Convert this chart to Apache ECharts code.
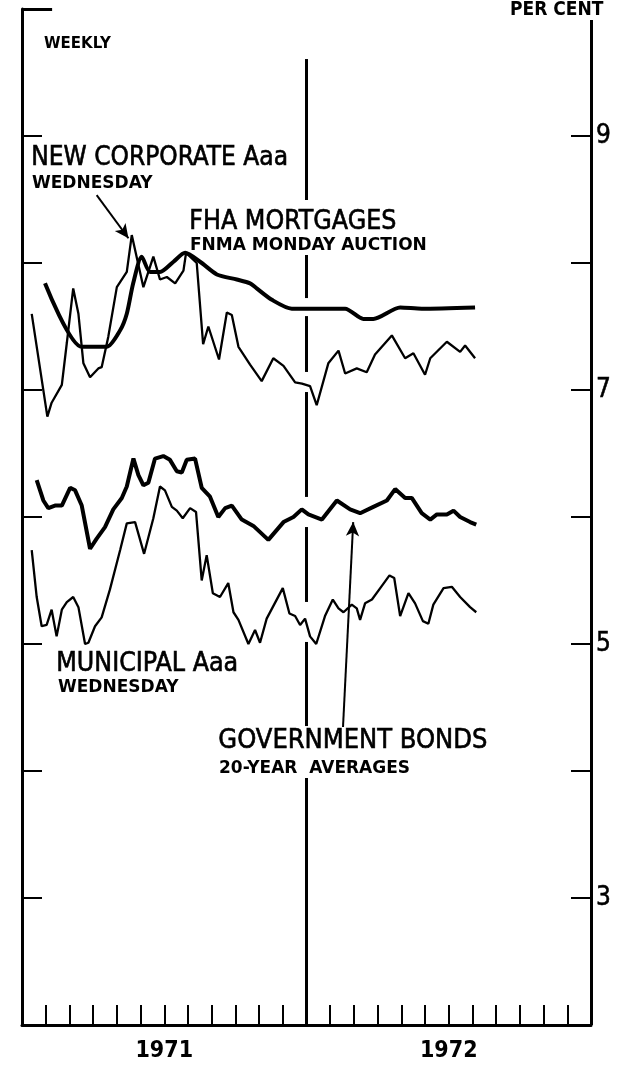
<!DOCTYPE html>
<html>
<head>
<meta charset="utf-8">
<script src="https://cdn.jsdelivr.net/npm/echarts@6/dist/echarts.min.js"></script>
<style>
html,body{margin:0;padding:0;background:#fff;}
#chart{width:626px;height:1074px;}
</style>
</head>
<body>
<div id="chart"></div>
<script>
// x values are months since Jan 1, 1971 (0 = Jan 1971, 12 = Jan 1972, 24 = Jan 1973)
var fhaX = [0.97,2.52,3.57,4.14,4.42,4.69,5.05,5.40,5.82,6.39,6.88,7.51,8.22,9.06,9.62,9.90,10.54,11.38,12.01,13.63,14.40,14.82,15.95,16.86,19.11];
var fhaY = [7.84,7.34,7.34,7.47,7.60,7.84,8.05,7.93,7.93,8.01,8.08,8.01,7.91,7.87,7.84,7.80,7.71,7.64,7.64,7.64,7.56,7.56,7.65,7.64,7.65];

var corpX = [0.41,1.07,1.25,1.68,1.89,2.16,2.38,2.59,2.87,3.22,3.36,3.64,4.00,4.42,4.63,5.12,5.54,5.82,6.11,6.46,6.81,6.92,7.37,7.64,7.86,8.31,8.64,8.85,9.13,9.62,10.11,10.60,11.03,11.52,11.81,12.15,12.43,12.92,13.35,13.63,14.12,14.54,14.89,15.60,16.16,16.51,17.00,17.22,17.92,18.48,18.69,19.11];
var corpY = [7.60,6.79,6.90,7.04,7.37,7.80,7.60,7.21,7.10,7.17,7.18,7.42,7.81,7.93,8.22,7.81,8.05,7.87,7.89,7.84,7.94,8.08,8.00,7.36,7.50,7.24,7.61,7.59,7.34,7.20,7.07,7.25,7.19,7.06,7.05,7.03,6.88,7.21,7.31,7.13,7.17,7.14,7.28,7.43,7.25,7.29,7.12,7.25,7.38,7.30,7.35,7.25];

var govX = [0.62,0.90,1.11,1.39,1.68,2.03,2.24,2.52,2.87,3.15,3.50,3.85,4.21,4.42,4.70,4.91,5.12,5.33,5.61,5.96,6.24,6.53,6.74,6.95,7.30,7.58,7.93,8.28,8.57,8.85,9.27,9.76,10.39,11.03,11.45,11.80,12.08,12.65,13.28,13.84,14.26,14.82,15.39,15.74,16.16,16.44,16.86,17.22,17.50,17.92,18.20,18.48,18.90,19.16];
var govY = [6.29,6.13,6.07,6.09,6.09,6.23,6.21,6.09,5.75,5.83,5.92,6.06,6.15,6.24,6.46,6.33,6.25,6.27,6.46,6.48,6.45,6.36,6.35,6.45,6.46,6.23,6.16,6.00,6.07,6.09,5.98,5.93,5.82,5.96,6.00,6.06,6.02,5.98,6.13,6.06,6.03,6.08,6.13,6.22,6.15,6.15,6.03,5.98,6.02,6.02,6.05,6.00,5.96,5.94];

var muniX = [0.41,0.62,0.83,1.04,1.25,1.46,1.68,1.89,2.16,2.38,2.66,2.80,3.08,3.36,3.71,4.14,4.42,4.77,5.15,5.54,5.82,6.03,6.32,6.53,6.78,7.09,7.34,7.58,7.79,8.05,8.35,8.70,8.92,9.13,9.55,9.83,10.04,10.32,11.00,11.28,11.52,11.73,11.94,12.15,12.41,12.78,13.11,13.35,13.56,13.91,14.12,14.26,14.47,14.76,15.11,15.50,15.70,15.95,16.30,16.58,16.91,17.14,17.35,17.78,18.13,18.48,18.90,19.16];
var muniY = [5.74,5.37,5.14,5.15,5.27,5.06,5.27,5.33,5.37,5.29,5.00,5.01,5.14,5.21,5.43,5.74,5.95,5.96,5.71,5.99,6.24,6.21,6.08,6.05,5.99,6.07,6.04,5.50,5.70,5.40,5.37,5.48,5.25,5.19,5.00,5.11,5.01,5.20,5.44,5.24,5.22,5.15,5.20,5.06,5.00,5.22,5.35,5.28,5.25,5.31,5.28,5.19,5.32,5.35,5.44,5.54,5.52,5.22,5.40,5.32,5.18,5.16,5.31,5.44,5.45,5.37,5.29,5.25];

var yearLabels = {6: '1971', 18: '1972'};
var rightTickLabels = [3, 5, 7, 9];
var yTickValues = [3, 4, 5, 6, 7, 8, 9];

function zip(xs, ys) { return xs.map(function (x, i) { return [x, ys[i]]; }); }

var FONT = '"DejaVu Sans Condensed", "Liberation Sans Narrow", "DejaVu Sans", sans-serif';
var FONTB = '"DejaVu Sans", sans-serif';

// year divider segments (value ranges along Jan 1972), broken where text/lines cross
var dividerSegs = [[9.606, 8.496], [8.063, 7.724], [7.582, 7.142], [6.984, 6.158], [5.921, 5.331], [5.016, 4.354], [3.945, 2.0]];

var markData = [];
dividerSegs.forEach(function (s) {
  markData.push([{coord: [12, s[0]]}, {coord: [12, s[1]]}]);
});
// right axis line (starts below "PER CENT")
markData.push([{coord: [24, 9.913]}, {coord: [24, 2]}]);
// top-left corner tick
markData.push([{coord: [0, 10]}, {coord: [1.27, 10]}]);

var tickData = [];
var TICK = 0.844; // 20px in months
yTickValues.forEach(function (v) {
  tickData.push([{coord: [0, v]}, {coord: [TICK, v]}]);
  tickData.push([{coord: [24 - TICK, v]}, {coord: [24, v]}]);
});

var arrowData = [
  [{coord: [3.15, 8.535]}, {coord: [4.49, 8.195]}],
  [{coord: [13.54, 4.346]}, {coord: [13.97, 5.96]}]
];

var chart = echarts.init(document.getElementById('chart'), null, {renderer: 'canvas'});
var lineBase = {type: 'line', showSymbol: false, symbol: 'none', animation: false, silent: true, z: 3};
var mlBase = {silent: true, animation: false, label: {show: false}, emphasis: {disabled: true}};
function label(text, left, top, font, heavy) {
  var st = {text: text, font: font, fill: '#000'};
  if (heavy) { st.stroke = '#000'; st.lineWidth = 0.6; }
  return {type: 'text', left: left, top: top, style: st};
}
var option = {
  animation: false,
  backgroundColor: '#fff',
  grid: {left: 22, right: 35, top: 9, bottom: 49, containLabel: false},
  xAxis: {
    type: 'value', min: 0, max: 24, interval: 1,
    splitLine: {show: false},
    axisLine: {show: true, onZero: false, lineStyle: {color: '#000', width: 3}},
    axisTick: {show: true, inside: true, length: 20, lineStyle: {color: '#000', width: 2},
      customValues: [1,2,3,4,5,6,7,8,9,10,11,12,13,14,15,16,17,18,19,20,21,22,23]},
    axisLabel: {show: true, customValues: [6, 18], margin: 15,
      formatter: function (v) { return yearLabels[v] || ''; },
      color: '#000', fontSize: 23, fontWeight: 'bold', fontFamily: FONT}
  },
  yAxis: [{
    type: 'value', min: 2, max: 10, interval: 1, position: 'left',
    splitLine: {show: false},
    axisLine: {show: true, onZero: false, lineStyle: {color: '#000', width: 3}},
    axisTick: {show: false},
    axisLabel: {show: false}
  }, {
    type: 'value', min: 2, max: 10, interval: 1, position: 'right',
    splitLine: {show: false},
    axisLine: {show: false},
    axisTick: {show: false},
    axisLabel: {show: true, customValues: rightTickLabels, margin: 5, color: '#000',
      fontSize: 26, fontFamily: FONT, textBorderColor: '#000', textBorderWidth: 0.5}
  }],
  series: [
    Object.assign({}, lineBase, {name: 'FHA mortgages', data: zip(fhaX, fhaY), smooth: 0.25,
      lineStyle: {color: '#000', width: 4},
      markLine: Object.assign({}, mlBase, {symbol: ['none', 'none'],
        lineStyle: {color: '#000', width: 3, type: 'solid'}, data: markData})}),
    Object.assign({}, lineBase, {name: 'New corporate Aaa', data: zip(corpX, corpY),
      lineStyle: {color: '#000', width: 2.3},
      markLine: Object.assign({}, mlBase, {symbol: ['none', 'arrow'], symbolSize: [10, 14],
        lineStyle: {color: '#000', width: 2, type: 'solid'}, data: arrowData})}),
    Object.assign({}, lineBase, {name: 'Government bonds', data: zip(govX, govY),
      lineStyle: {color: '#000', width: 4},
      markLine: Object.assign({}, mlBase, {symbol: ['none', 'none'],
        lineStyle: {color: '#000', width: 2, type: 'solid'}, data: tickData})}),
    Object.assign({}, lineBase, {name: 'Municipal Aaa', data: zip(muniX, muniY),
      lineStyle: {color: '#000', width: 2.3}})
  ],
  graphic: [
    label('PER CENT', 510, 1, 'bold 19px "DejaVu Sans Condensed", "DejaVu Sans", sans-serif', false),
    label('WEEKLY', 44, 37, 'bold 15px ' + FONTB, false),
    label('NEW CORPORATE Aaa', 31, 145, '26px ' + FONT, true),
    label('WEDNESDAY', 32, 175, 'bold 17px ' + FONTB, false),
    label('FHA MORTGAGES', 189, 208, '26.5px ' + FONT, true),
    label('FNMA MONDAY AUCTION', 190, 237, 'bold 17px ' + FONTB, false),
    label('MUNICIPAL Aaa', 56, 650, '26.5px ' + FONT, true),
    label('WEDNESDAY', 58, 679, 'bold 17px ' + FONTB, false),
    label('GOVERNMENT BONDS', 218, 727, '27px ' + FONT, true),
    label('20-YEAR  AVERAGES', 219, 760, 'bold 17px ' + FONTB, false)
  ]
};
chart.setOption(option);
</script>
</body>
</html>
